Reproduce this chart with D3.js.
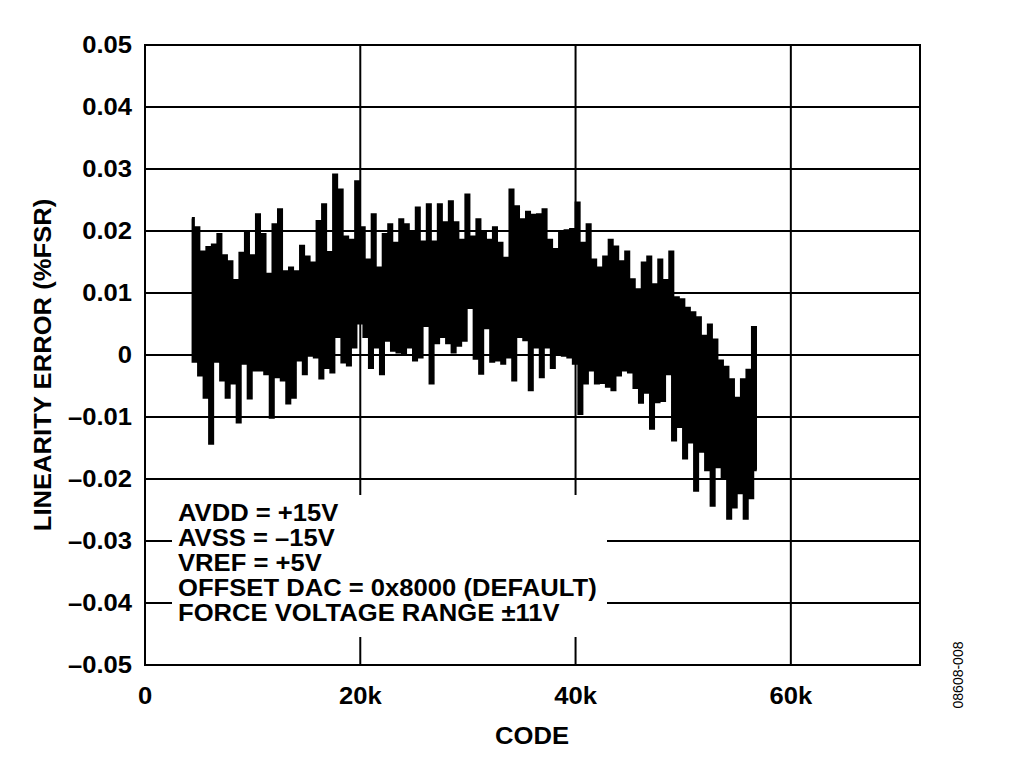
<!DOCTYPE html>
<html>
<head>
<meta charset="utf-8">
<script src="https://cdn.jsdelivr.net/npm/d3@7"></script>
<style>
  body { margin: 0; background: #fff; }
  svg { display: block; }
  text { font-family: "Liberation Sans", Arial, sans-serif; font-weight: bold; fill: #000; }
</style>
</head>
<body>
<svg id="chart" width="1024" height="779"></svg>
<script>
const CODE_START = 4352;
const CODE_STEP = 256;
const linearityError = [
  0.0220, -0.0010, 0.0205, -0.0032, 0.0166, -0.0068, 0.0173, -0.0142,
  0.0177, -0.0010, 0.0194, -0.0040, 0.0160, -0.0068, 0.0150, -0.0045,
  0.0120, -0.0108, 0.0164, -0.0013, 0.0197, -0.0069, 0.0160, -0.0024,
  0.0226, -0.0024, 0.0194, -0.0030, 0.0130, -0.0100, 0.0210, -0.0035,
  0.0234, -0.0040, 0.0134, -0.0077, 0.0140, -0.0068, 0.0134, -0.0008,
  0.0175, -0.0030, 0.0158, 0.0000, 0.0148, -0.0003, 0.0215, -0.0037,
  0.0242, -0.0020, 0.0165, -0.0027, 0.0290, 0.0030, 0.0266, -0.0011,
  0.0190, -0.0016, 0.0185, 0.0013, 0.0279, 0.0052, 0.0205, 0.0030,
  0.0153, -0.0020, 0.0226, 0.0013, 0.0140, -0.0030, 0.0194, 0.0024,
  0.0210, 0.0008, 0.0180, 0.0005, 0.0218, 0.0003, 0.0210, 0.0013,
  0.0197, -0.0008, 0.0237, -0.0003, 0.0182, 0.0048, 0.0242, -0.0045,
  0.0182, 0.0020, 0.0242, 0.0030, 0.0213, 0.0020, 0.0247, 0.0005,
  0.0213, 0.0016, 0.0185, 0.0024, 0.0258, 0.0077, 0.0190, -0.0005,
  0.0218, -0.0029, 0.0198, 0.0044, 0.0185, -0.0010, 0.0205, -0.0008,
  0.0180, -0.0013, 0.0156, -0.0003, 0.0266, -0.0040, 0.0239, 0.0030,
  0.0218, 0.0025, 0.0230, -0.0056, 0.0225, 0.0013, 0.0226, -0.0035,
  0.0234, 0.0013, 0.0185, -0.0020, 0.0170, 0.0003, 0.0198, 0.0000,
  0.0200, -0.0003, 0.0202, -0.0013, 0.0245, -0.0094, 0.0180, -0.0045,
  0.0210, -0.0024, 0.0153, -0.0045, 0.0140, -0.0044, 0.0158, -0.0050,
  0.0185, -0.0056, 0.0174, -0.0032, 0.0150, -0.0024, 0.0166, -0.0027,
  0.0121, -0.0052, 0.0105, -0.0076, 0.0148, -0.0060, 0.0158, -0.0118,
  0.0113, -0.0075, 0.0153, -0.0073, 0.0120, -0.0030, 0.0166, -0.0137,
  0.0092, -0.0115, 0.0089, -0.0166, 0.0075, -0.0140, 0.0068, -0.0218,
  0.0060, -0.0155, 0.0030, -0.0185, 0.0048, -0.0242, 0.0024, -0.0180,
  -0.0010, -0.0197, -0.0020, -0.0263, -0.0040, -0.0245, -0.0070, -0.0222,
  -0.0040, -0.0263, -0.0025, -0.0230, 0.0044, -0.0185
];

const xTicks = [0, 20000, 40000, 60000];
const xTickLabels = ["0", "20k", "40k", "60k"];
const yTicks = [-0.05, -0.04, -0.03, -0.02, -0.01, 0, 0.01, 0.02, 0.03, 0.04, 0.05];
const yTickLabels = ["–0.05", "–0.04", "–0.03", "–0.02", "–0.01", "0", "0.01", "0.02", "0.03", "0.04", "0.05"];
const notes = [
  "AVDD = +15V",
  "AVSS = –15V",
  "VREF = +5V",
  "OFFSET DAC = 0x8000 (DEFAULT)",
  "FORCE VOLTAGE RANGE ±11V"
];

const data = linearityError.map((v, i) => ({ code: CODE_START + i * CODE_STEP, err: v }));

const margin = { top: 45, right: 104, bottom: 114, left: 145 },
    width = 1024, height = 779;

const fontSize = "23.5px";
const stretch = 1.09; // the original face is a bit wider than Liberation Sans

const svg = d3.select("#chart");

const x = d3.scaleLinear().domain([0, 72000]).range([margin.left, width - margin.right]);
const y = d3.scaleLinear().domain([-0.05, 0.05]).range([height - margin.bottom, margin.top]);

// grid
svg.append("g")
    .selectAll("line")
    .data(yTicks)
    .join("line")
    .attr("x1", x(0)).attr("x2", x(72000))
    .attr("y1", d => y(d)).attr("y2", d => y(d))
    .attr("stroke", "#000").attr("stroke-width", 2);

svg.append("g")
    .selectAll("line")
    .data(xTicks.slice(1))
    .join("line")
    .attr("x1", d => x(d)).attr("x2", d => x(d))
    .attr("y1", y(0.05)).attr("y2", y(-0.05))
    .attr("stroke", "#000").attr("stroke-width", 2);

// data trace, drawn as vertical steps so the band fills in
const line = d3.line().x(d => x(d.code)).y(d => y(d.err)).curve(d3.curveStep);
svg.append("path")
    .datum(data)
    .attr("d", line)
    .attr("fill", "none")
    .attr("stroke", "#000")
    .attr("stroke-width", 3.3)
    .attr("stroke-linejoin", "miter");

// note box covers the grid
svg.append("rect")
    .attr("x", 172).attr("y", 495)
    .attr("width", 435).attr("height", 142)
    .attr("fill", "#fff");

svg.append("g")
    .selectAll("text")
    .data(notes)
    .join("text")
    .attr("transform", (d, i) => `translate(178,${521 + i * 25}) scale(${stretch},1)`)
    .style("font-size", fontSize)
    .text(d => d);

// frame
svg.append("rect")
    .attr("x", x(0)).attr("y", y(0.05))
    .attr("width", x(72000) - x(0)).attr("height", y(-0.05) - y(0.05))
    .attr("fill", "none").attr("stroke", "#000").attr("stroke-width", 2);

// tick labels
svg.append("g")
    .selectAll("text")
    .data(yTicks)
    .join("text")
    .attr("transform", d => `translate(132,${y(d)}) scale(${stretch},1)`)
    .attr("dy", "0.36em")
    .attr("text-anchor", "end")
    .style("font-size", fontSize)
    .text((d, i) => yTickLabels[i]);

svg.append("g")
    .selectAll("text")
    .data(xTicks)
    .join("text")
    .attr("transform", d => `translate(${x(d)},704) scale(${stretch},1)`)
    .attr("text-anchor", "middle")
    .style("font-size", fontSize)
    .text((d, i) => xTickLabels[i]);

// axis titles
svg.append("text")
    .attr("transform", `translate(532,744) scale(${stretch},1)`)
    .attr("text-anchor", "middle")
    .style("font-size", fontSize)
    .text("CODE");

svg.append("text")
    .attr("transform", `translate(51,365) rotate(-90) scale(${stretch},1)`)
    .attr("text-anchor", "middle")
    .style("font-size", fontSize)
    .text("LINEARITY ERROR (%FSR)");

svg.append("text")
    .attr("transform", "translate(963,675) rotate(-90)")
    .attr("text-anchor", "middle")
    .style("font-size", "14px")
    .style("font-weight", "normal")
    .text("08608-008");
</script>
</body>
</html>
